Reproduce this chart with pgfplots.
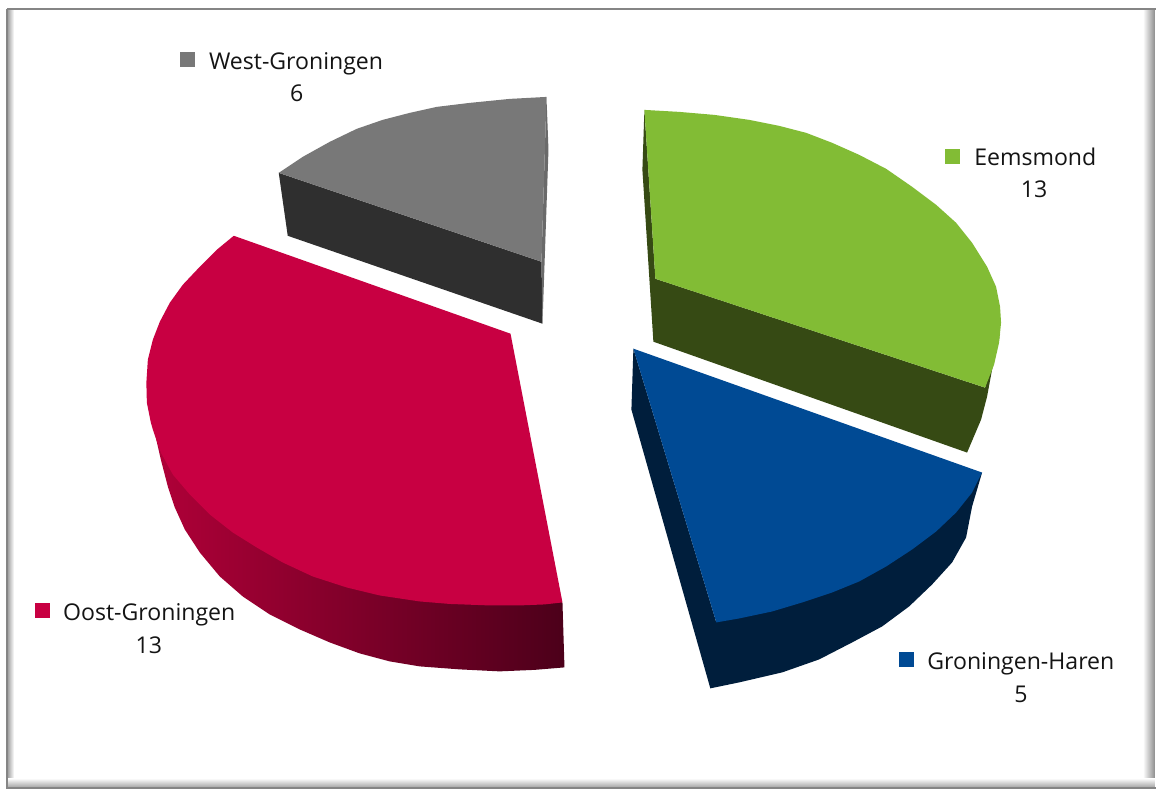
\documentclass[border=0pt]{standalone}
\usepackage{pgfplots}
\usepackage{fontspec}
\setmainfont{Open Sans}
\pgfplotsset{compat=1.18}
\tikzset{lab/.style={font=\fontsize{23.1}{27}\selectfont, text=black!92, inner sep=0pt}}
\definecolor{gtop}{HTML}{787878}
\definecolor{gside}{HTML}{2F2F2F}
\definecolor{gsl}{HTML}{6A6A6A}
\definecolor{ltop}{HTML}{82BC35}
\definecolor{lside}{HTML}{364A14}
\definecolor{btop}{HTML}{004A94}
\definecolor{bside}{HTML}{001E3C}
\definecolor{rtop}{HTML}{C80042}
\definecolor{rl}{HTML}{B00038}
\definecolor{rr}{HTML}{4C001A}
\begin{document}
\begin{tikzpicture}
\begin{axis}[
  scale only axis, width=1157pt, height=790pt,
  xmin=0, xmax=1157, ymin=0, ymax=790, y dir=reverse,
  axis lines=none, clip=false,
  every axis plot/.append style={draw=none, line width=0pt},
]
% frame
\fill[white] (axis cs:0,0) rectangle (axis cs:1157,790);
\shade[left color=black!35, right color=white] (axis cs:8,10) rectangle (axis cs:14,783);
\shade[left color=white, right color=black!45] (axis cs:1144,10) rectangle (axis cs:1156,783);
\shade[top color=white, bottom color=black!35] (axis cs:8,779) rectangle (axis cs:1156,788);
\draw[black!48, line width=2.2pt] (axis cs:7,9) -- (axis cs:1157,9);
\draw[black!48, line width=2.2pt] (axis cs:7,9) -- (axis cs:7,789) -- (axis cs:1157,789);
% grey slice
\addplot[fill=gside] coordinates {(279,173)(288,236)(543,324)(542,262)} -- cycle;
\addplot[fill=gsl] coordinates {(547,97)(549,150)(543,324)(542,262)} -- cycle;
\addplot[fill=gtop] coordinates {(279,173)(303,157)(330,142)(357,129)(383,120)(410,113)(437,107)(470,103)(510,99)(547,97)(542,262)} -- cycle;
% green slice
\addplot[fill=lside] coordinates {(645,110)(643,170)(654,342)(968,453)(982,420)(988,397)(993,370)(1001,335)(986,388)(656,279)} -- cycle;
\addplot[fill=ltop] coordinates {(645,110)(680,112)(715,115)(750,120)(780,126)(807,133)(833,143)(860,155)(887,169)(913,187)(937,205)(957,223)(973,243)(988,267)(997,287)(1001,307)(1002,323)(1000,343)(995,365)(986,388)(656,279)} -- cycle;
% blue slice
\addplot[fill=bside] coordinates {(634,349)(632,410)(711,689)(740,683)(783,673)(820,660)(853,643)(883,627)(910,607)(933,585)(953,563)(967,538)(973,507)(983,473)(717,623)} -- cycle;
\addplot[fill=btop] coordinates {(634,349)(983,473)(973,493)(957,513)(937,532)(913,550)(887,567)(860,582)(833,593)(803,603)(773,612)(740,619)(717,623)} -- cycle;
% red slice
\addplot[left color=rl, right color=rr] coordinates {(153,425)(161,460)(168,487)(175,508)(185,530)(200,553)(220,577)(243,597)(270,615)(300,630)(330,643)(360,654)(390,662)(420,667)(460,670)(500,672)(535,670.5)(565,668)(563,603)(300,500)} -- cycle;
\addplot[fill=rtop] coordinates {(234,236)(511,334)(563,603)(545,605)(520,606)(490,606)(450,604.5)(420,602)(380,596)(347,588)(313,577)(283,563)(257,548)(233,533)(210,515)(190,495)(173,475)(161,453)(153,430)(151,423)(147,403)(146.5,383)(148,360)(153,340)(160,322)(170,303)(183,285)(200,267)(217,250)} -- cycle;
% keys
\addplot[fill=gtop] coordinates {(180,52)(195,52)(195,67)(180,67)} -- cycle;
\addplot[fill=ltop] coordinates {(946,149)(961,149)(961,164)(946,164)} -- cycle;
\addplot[fill=btop] coordinates {(900,653)(915,653)(915,668)(900,668)} -- cycle;
\addplot[fill=rtop] coordinates {(35,604)(50,604)(50,619)(35,619)} -- cycle;
% labels
\node[lab, anchor=base west] at (axis cs:209,70) {West-Groningen};
\node[lab, anchor=base] at (axis cs:297,102) {6};
\node[lab, anchor=base west] at (axis cs:975,166) {Eemsmond};
\node[lab, anchor=base] at (axis cs:1035,198) {13};
\node[lab, anchor=base west] at (axis cs:928,670) {Groningen-Haren};
\node[lab, anchor=base] at (axis cs:1022,703) {5};
\node[lab, anchor=base west] at (axis cs:63,621) {Oost-Groningen};
\node[lab, anchor=base] at (axis cs:149,654) {13};
\end{axis}
\end{tikzpicture}
\end{document}
